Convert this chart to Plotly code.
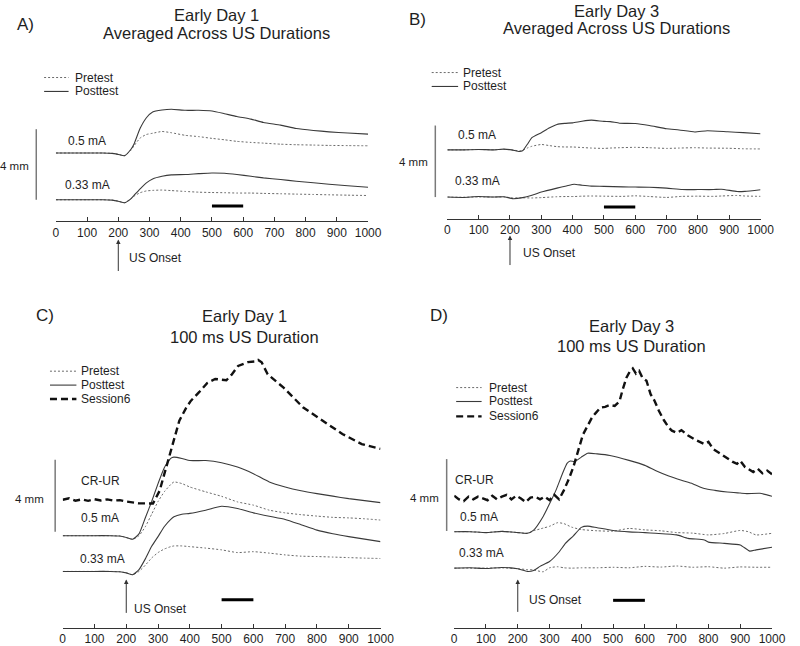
import plotly.graph_objects as go

# ---------------- data (ms, mm above each trace's own baseline) ----------------
A_t = [0, 50, 100, 150, 180, 200, 220, 240, 250, 270, 290, 310, 340, 370, 415, 457, 500, 540, 580, 625, 665, 720, 770, 825, 875, 935, 1000]
A_post_05 = [0, 0, 0, 0, -0.02, -0.08, -0.15, 0.2, 0.5, 1.4, 2.0, 2.33, 2.44, 2.48, 2.42, 2.42, 2.38, 2.23, 2.07, 1.92, 1.73, 1.58, 1.39, 1.28, 1.2, 1.13, 1.07]
A_pre_05 = [0, 0, 0, 0, -0.02, -0.08, -0.15, 0.15, 0.4, 0.85, 1.05, 1.12, 1.22, 1.15, 1.0, 0.93, 0.83, 0.75, 0.66, 0.6, 0.56, 0.5, 0.47, 0.45, 0.43, 0.42, 0.41]
A_post_033 = [0, 0, 0, 0, -0.02, -0.08, -0.17, 0.05, 0.24, 0.62, 0.96, 1.18, 1.33, 1.41, 1.43, 1.48, 1.52, 1.5, 1.43, 1.33, 1.24, 1.15, 1.05, 0.96, 0.88, 0.79, 0.71]
A_pre_033 = [0, 0, 0, 0, -0.02, -0.08, -0.17, 0.05, 0.2, 0.4, 0.5, 0.53, 0.55, 0.52, 0.47, 0.43, 0.41, 0.4, 0.38, 0.38, 0.36, 0.34, 0.32, 0.3, 0.28, 0.26, 0.24]

B_t05 = [0, 50, 100, 150, 180, 205, 230, 240, 255, 270, 300, 325, 350, 375, 400, 430, 460, 500, 520, 550, 600, 645, 700, 740, 790, 830, 895, 945, 1000]
B_post_05 = [0, 0, 0.02, 0, 0.04, 0.0, -0.09, -0.05, 0.3, 0.68, 0.96, 1.22, 1.42, 1.48, 1.51, 1.6, 1.66, 1.59, 1.58, 1.49, 1.47, 1.36, 1.18, 1.11, 1.0, 1.07, 1.01, 0.96, 0.9]
B_pre_05 = [0, 0, 0.02, 0, 0.03, 0, -0.06, -0.03, 0.1, 0.2, 0.3, 0.24, 0.18, 0.16, 0.16, 0.13, 0.1, 0.08, 0.1, 0.12, 0.14, 0.12, 0.08, 0.1, 0.12, 0.1, 0.09, 0.06, 0.05]
B_t033 = [0, 50, 100, 150, 180, 210, 240, 270, 300, 350, 380, 405, 430, 460, 500, 560, 600, 645, 700, 750, 800, 850, 875, 925, 950, 1000]
B_post_033 = [0, -0.02, 0.03, 0, 0.02, -0.09, -0.03, 0.1, 0.28, 0.5, 0.62, 0.72, 0.66, 0.61, 0.6, 0.57, 0.56, 0.55, 0.5, 0.42, 0.42, 0.42, 0.44, 0.31, 0.32, 0.41]
B_pre_033 = [0, -0.01, 0.01, 0, 0.01, -0.05, -0.04, -0.05, -0.03, 0.02, 0.03, 0.03, 0.05, 0.06, 0.05, 0.04, 0.07, 0.03, -0.02, 0.04, 0.05, 0.04, 0.06, 0.09, 0.06, 0.04]

C_t = [0, 50, 100, 150, 180, 200, 220, 240, 260, 280, 300, 320, 340, 350, 375, 400, 450, 500, 550, 600, 650, 700, 750, 800, 850, 900, 950, 1000]
C_post_05 = [0, 0, 0, 0, -0.02, -0.1, -0.2, 0.1, 1.0, 1.9, 2.9, 3.8, 4.3, 4.37, 4.3, 4.18, 4.18, 4.06, 3.82, 3.45, 2.99, 2.71, 2.5, 2.34, 2.2, 2.06, 1.95, 1.84]
C_pre_05 = [0, 0, 0, 0, -0.02, -0.1, -0.2, 0.0, 0.5, 1.2, 1.9, 2.45, 2.85, 2.99, 2.9, 2.71, 2.44, 2.19, 1.88, 1.7, 1.42, 1.27, 1.17, 1.09, 1.02, 0.99, 0.94, 0.87]
C_post_033 = [0, 0, 0, 0, -0.02, -0.08, -0.18, 0.1, 0.7, 1.4, 1.94, 2.5, 2.9, 3.04, 3.18, 3.23, 3.41, 3.63, 3.5, 3.26, 3.07, 2.89, 2.6, 2.3, 2.1, 1.94, 1.8, 1.66]
C_pre_033 = [0, 0, 0, 0, -0.02, -0.08, -0.18, 0.0, 0.35, 0.75, 1.05, 1.25, 1.38, 1.42, 1.42, 1.38, 1.3, 1.2, 1.05, 1.1, 1.02, 0.92, 0.85, 0.83, 0.8, 0.77, 0.74, 0.72]
C_s6_t = [0, 20, 40, 60, 80, 100, 120, 140, 160, 180, 200, 220, 240, 260, 284, 305, 320, 336, 352, 367,
          388, 403, 430, 455, 480, 500, 515, 531, 552, 583, 608, 615, 626, 645, 695, 757, 818, 880, 941, 1000]
C_s6 = [0.0, 0.08, -0.05, 0.02, -0.06, 0.03, -0.04, 0.02, -0.05, -0.02, -0.1, -0.15, -0.2, -0.2, -0.21, 0.5, 1.45, 2.55, 3.6, 4.4,
        5.1, 5.5, 6.0, 6.5, 6.72, 6.7, 6.65, 6.95, 7.45, 7.66, 7.7, 7.78, 7.65, 6.98, 6.24, 5.13, 4.41, 3.66, 3.1, 2.83]

D_t05 = [0, 50, 100, 150, 200, 230, 250, 280, 300, 320, 340, 355, 365, 380, 400, 420, 450, 490, 550, 600, 633, 675, 715, 750, 787, 820, 859, 900, 921, 962, 1000]
D_post_05 = [0, 0.0, -0.05, 0.02, -0.05, -0.09, 0.09, 0.85, 1.55, 2.3, 3.2, 3.8, 3.93, 3.9, 4.15, 4.37, 4.33, 4.24, 3.97, 3.69, 3.41, 3.1, 2.86, 2.67, 2.4, 2.3, 2.21, 2.15, 2.12, 2.14, 1.97]
D_tpre = [0, 50, 100, 150, 200, 230, 250, 280, 300, 325, 345, 370, 400, 450, 500, 550, 600, 650, 700, 750, 800, 850, 900, 925, 950, 1000]
D_pre_05 = [0, 0.0, -0.05, 0.02, -0.05, -0.09, 0.05, 0.2, 0.3, 0.5, 0.45, 0.25, 0.12, 0.05, 0.03, 0.18, 0.1, 0.05, -0.05, -0.08, -0.18, -0.1, 0.07, 0.0, -0.18, -0.09]
D_pre_033 = [0, 0, 0, 0.02, -0.03, -0.08, -0.1, -0.2, 0.02, 0.08, 0.02, 0.0, 0.02, 0.02, 0.05, 0.02, 0.1, 0.06, 0.12, 0.05, 0.08, 0.0, 0.07, 0.06, 0.05, 0.05]
D_t033 = [0, 50, 100, 150, 200, 230, 250, 270, 300, 330, 350, 375, 400, 420, 450, 500, 550, 600, 633, 700, 736, 787, 800, 850, 900, 930, 950, 1000]
D_post_033 = [0, 0.02, -0.02, 0.04, -0.03, -0.18, -0.13, 0.1, 0.37, 0.9, 1.38, 1.8, 2.27, 2.34, 2.25, 2.1, 2.02, 1.98, 1.94, 1.85, 1.66, 1.57, 1.45, 1.38, 1.29, 0.95, 1.02, 1.16]
D_s6_t = [0, 15, 30, 45, 60, 75, 90, 105, 120, 135, 150, 165, 180, 195, 210, 225, 240, 255, 270, 285,
          300, 315, 330, 345, 360, 375, 390, 405, 420, 435, 445, 460, 475, 490, 505, 520, 530, 542, 552, 562,
          572, 582, 592, 605, 618, 630, 644, 660, 675, 685, 700, 715, 736, 760, 787, 800, 815, 838, 860, 875,
          890, 900, 915, 930, 941, 955, 970, 985, 1000]
D_s6 = [0.1, -0.1, -0.2, 0.05, -0.1, 0.05, -0.05, -0.15, 0.1, -0.1, 0.05, 0.15, -0.1, 0.1, -0.05, -0.25, 0.0, 0.05, -0.1, 0.05,
        -0.15, 0.15, -0.1, 0.4, 1.0, 1.7, 2.6, 3.5, 4.0, 4.5, 4.7, 5.0, 5.05, 5.15, 5.1, 5.35, 6.0, 6.67, 7.0, 7.19,
        6.9, 7.05, 6.67, 6.5, 5.75, 5.4, 4.83, 4.3, 3.9, 3.72, 3.6, 3.75, 3.45, 3.2, 2.98, 3.1, 2.7, 2.43, 2.2, 2.0,
        1.88, 2.05, 1.7, 1.55, 1.42, 1.6, 1.35, 1.5, 1.3]

x_ticks = [0, 100, 200, 300, 400, 500, 600, 700, 800, 900, 1000]
us_onset_ms = 200
bar_window = [500, 600]
scale_mm = 4
titles = {"A": ("Early Day 1", "Averaged Across US Durations"),
          "B": ("Early Day 3", "Averaged Across US Durations"),
          "C": ("Early Day 1", "100 ms US Duration"),
          "D": ("Early Day 3", "100 ms US Duration")}

# ---------------- layout geometry (pixels) ----------------
W, H = 800, 646
FONT = "Liberation Sans, Arial, sans-serif"
C_POST, C_PRE, C_S6, C_TXT = "#3a3a3a", "#6a6a6a", "#111111", "#1e1e1e"

G = {
    "A": dict(n="", x0=54, x1=373, axis=222.5, base=201, ppm=17.75, top=45, off05=2.65, offcr=None,
              bar=-0.355, sb=(34, 0), arrow=(241, 281), uslab=(127, 260),
              leg=(42, 67, 72, [78, 92]), t=(218, 15, 33), lab=(23, 25),
              mA=[(86, 141.7, "0.5 mA"), (86, 185.7, "0.33 mA")], mm=(29, 166.7)),
    "B": dict(n="2", x0=454, x1=774, axis=220, base=198.3, ppm=18.0, top=45, off05=2.64, offcr=None,
              bar=-0.56, sb=(441.7, 0), arrow=(237, 275), uslab=(529, 255),
              leg=(438, 465, 468, [73, 87]), t=(627, 11, 28), lab=(423, 20),
              mA=[(484, 136, "0.5 mA"), (485, 181.7, "0.33 mA")], mm=(436, 163.3)),
    "C": dict(n="3", x0=61, x1=385.7, axis=632, base=575, ppm=18.08, top=340, off05=1.99, offcr=1.99 + 2.0,
              bar=-1.57, sb=(53.3, 2.21), arrow=(583, 625), uslab=(131.7, 613),
              leg=(48, 75, 78, [373.5, 387.5, 401.5]), t=(246.5, 318, 339), lab=(43, 317),
              mA=[(100, 484, "CR-UR"), (99, 521.7, "0.5 mA"), (102, 562.3, "0.33 mA")], mm=(44, 501.7)),
    "D": dict(n="4", x0=461, x1=785.7, axis=632, base=571.7, ppm=18.08, top=335, off05=2.03, offcr=2.03 + 1.9,
              bar=-1.79, sb=(453.3, 2.07), arrow=(583, 624), uslab=(535, 604),
              leg=(463, 489, 494, [390, 404, 419]), t=(642.5, 328, 348), lab=(445, 317),
              mA=[(482, 482.7, "CR-UR"), (486, 520, "0.5 mA"), (489, 556, "0.33 mA")], mm=(448, 501)),
}

SERIES = {
    "A": [(A_t, A_pre_05, "pre", "05"), (A_t, A_post_05, "post", "05"),
          (A_t, A_pre_033, "pre", "033"), (A_t, A_post_033, "post", "033")],
    "B": [(B_t05, B_pre_05, "pre", "05"), (B_t05, B_post_05, "post", "05"),
          (B_t033, B_pre_033, "pre", "033"), (B_t033, B_post_033, "post", "033")],
    "C": [(C_t, C_pre_05, "pre", "05"), (C_t, C_post_05, "post", "05"),
          (C_t, C_pre_033, "pre", "033"), (C_t, C_post_033, "post", "033"),
          (C_s6_t, C_s6, "s6", "cr")],
    "D": [(D_tpre, D_pre_05, "pre", "05"), (D_t05, D_post_05, "post", "05"),
          (D_tpre, D_pre_033, "pre", "033"), (D_t033, D_post_033, "post", "033"),
          (D_s6_t, D_s6, "s6", "cr")],
}

STYLE = {
    "pre": dict(color=C_PRE, width=1, dash="2px,2px"),
    "post": dict(color=C_POST, width=1.1),
    "s6": dict(color=C_S6, width=2.4, dash="7px,4px"),
}

fig = go.Figure()
shapes, annos = [], []
tf = dict(family=FONT, size=12, color=C_TXT)

for key, g in G.items():
    xa, ya = "x" + g["n"], "y" + g["n"]
    for t, vals, kind, cond in SERIES[key]:
        off = {"05": g["off05"], "033": 0.0, "cr": g["offcr"]}[cond]
        fig.add_trace(go.Scatter(
            x=t, y=[off + v for v in vals], mode="lines", xaxis=xa, yaxis=ya,
            line=dict(shape="spline", smoothing=0.5, **STYLE[kind]) if kind != "s6" else dict(**STYLE[kind]),
            showlegend=False, hoverinfo="skip"))

    fig.layout["xaxis" + g["n"]] = dict(
        domain=[g["x0"] / W, g["x1"] / W], range=[0, 1000], anchor=ya,
        showline=True, linecolor="#333", linewidth=1, ticks="inside", ticklen=4, tickcolor="#333",
        tickmode="array", tickvals=x_ticks, ticktext=[str(v) for v in x_ticks],
        tickfont=tf, showgrid=False, zeroline=False, fixedrange=True)
    fig.layout["yaxis" + g["n"]] = dict(
        domain=[1 - g["axis"] / H, 1 - g["top"] / H],
        range=[(g["base"] - g["axis"]) / g["ppm"], (g["base"] - g["top"]) / g["ppm"]],
        visible=False, anchor=xa, fixedrange=True)

    # black bar (time window)
    shapes.append(dict(type="line", xref=xa, yref=ya, x0=bar_window[0], x1=bar_window[1],
                       y0=g["bar"], y1=g["bar"], line=dict(color="#000", width=3)))
    # 4 mm scale bar
    sbx, sb0 = g["sb"]
    py0 = g["base"] - sb0 * g["ppm"]
    py1 = g["base"] - (sb0 + scale_mm) * g["ppm"]
    shapes.append(dict(type="line", xref="paper", yref="paper",
                       x0=sbx / W, x1=sbx / W, y0=1 - py0 / H, y1=1 - py1 / H,
                       line=dict(color="#7a7a7a", width=1.5)))
    annos.append(dict(text="4 mm", xref="paper", yref="paper", x=g["mm"][0] / W, y=1 - g["mm"][1] / H,
                      xanchor="right", yanchor="middle", showarrow=False, font=dict(family=FONT, size=11.5, color=C_TXT)))
    # US onset arrow
    axpx = g["x0"] + us_onset_ms * (g["x1"] - g["x0"]) / 1000
    tip, tail = g["arrow"]
    annos.append(dict(text=" ", xref="paper", yref="paper", x=axpx / W, y=1 - tip / H,
                      ax=0, ay=tail - tip, showarrow=True, arrowhead=2, arrowsize=0.9,
                      arrowwidth=1, arrowcolor="#333", standoff=0))
    annos.append(dict(text="US Onset", xref="paper", yref="paper", x=g["uslab"][0] / W, y=1 - g["uslab"][1] / H,
                      xanchor="left", yanchor="middle", showarrow=False, font=tf))
    # condition labels
    for lx, ly, txt in g["mA"]:
        annos.append(dict(text=txt, xref="paper", yref="paper", x=lx / W, y=1 - ly / H,
                          xanchor="center", yanchor="middle", showarrow=False, font=tf))
    # titles
    tx, ty1, ty2 = g["t"]
    for ty, txt in ((ty1, titles[key][0]), (ty2, titles[key][1])):
        annos.append(dict(text=txt, xref="paper", yref="paper", x=tx / W, y=1 - ty / H,
                          xanchor="center", yanchor="middle", showarrow=False,
                          font=dict(family=FONT, size=16.5, color=C_TXT)))
    annos.append(dict(text=key + ")", xref="paper", yref="paper", x=g["lab"][0] / W, y=1 - g["lab"][1] / H,
                      xanchor="center", yanchor="middle", showarrow=False,
                      font=dict(family=FONT, size=17, color=C_TXT)))
    # manual legend
    lx0, lx1, ltx, lys = g["leg"]
    names = ["Pretest", "Posttest", "Session6"][:len(lys)]
    kinds = ["pre", "post", "s6"]
    for ly, nm, kd in zip(lys, names, kinds):
        st = STYLE[kd]
        shapes.append(dict(type="line", xref="paper", yref="paper", x0=lx0 / W, x1=lx1 / W,
                           y0=1 - ly / H, y1=1 - ly / H,
                           line=dict(color=st["color"], width=st["width"], dash=st.get("dash", "solid"))))
        annos.append(dict(text=nm, xref="paper", yref="paper", x=ltx / W, y=1 - ly / H,
                          xanchor="left", yanchor="middle", showarrow=False, font=tf))

fig.update_layout(
    width=W, height=H, margin=dict(l=0, r=0, t=0, b=0),
    paper_bgcolor="white", plot_bgcolor="white", showlegend=False,
    shapes=shapes, annotations=annos, font=dict(family=FONT))

fig.write_html(
    "out.html",
    config={"displayModeBar": False, "displaylogo": False, "staticPlot": True},
    post_script="document.body.style.margin='0';document.body.style.overflow='hidden';"
                "document.documentElement.style.overflow='hidden';")
